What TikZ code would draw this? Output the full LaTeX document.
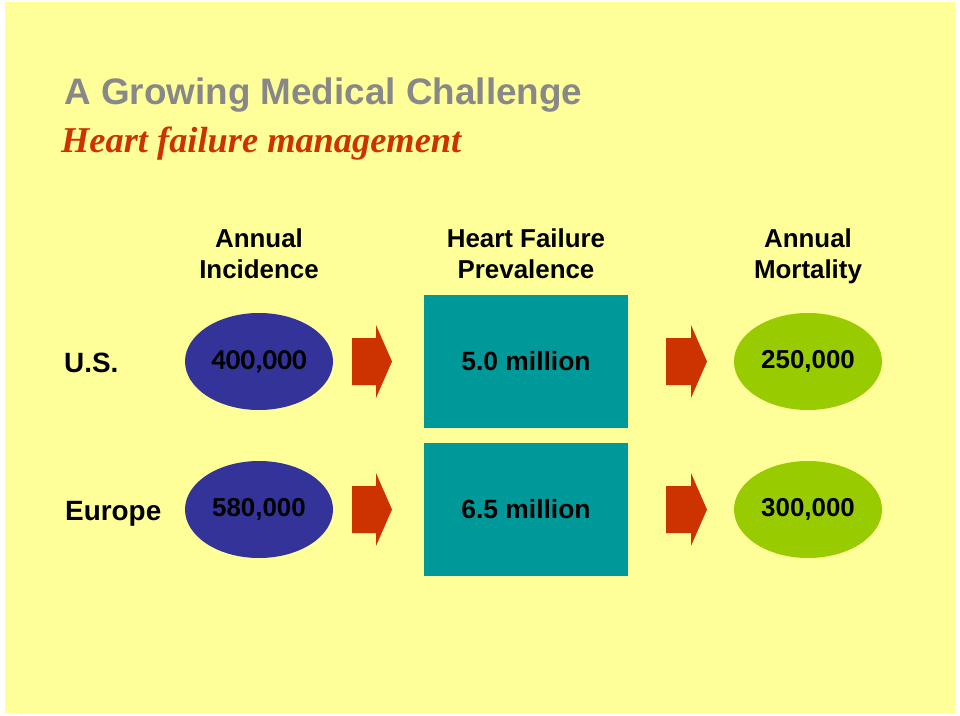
\documentclass[tikz,border=0pt]{standalone}
\usepackage{fontspec}
\setmainfont{Liberation Sans}
\newfontfamily\calibfont{Carlito}
\newfontfamily\timesfont{Liberation Serif}
\usepackage{tikz}
\usetikzlibrary{shapes.geometric,positioning}
\definecolor{slideyellow}{HTML}{FFFF99}
\definecolor{ovalblue}{HTML}{333399}
\definecolor{boxteal}{HTML}{009999}
\definecolor{ovalgreen}{HTML}{99CC00}
\definecolor{arroworange}{HTML}{CC3300}
\definecolor{titlegray}{HTML}{888888}

\begin{document}
\begin{tikzpicture}[%
    x=1bp, y=-1bp,
    node distance=148bp,
    on grid,
    incidence/.style={ellipse, fill=ovalblue, minimum width=148bp, minimum height=97bp,
        inner sep=0pt, font=\bfseries\fontsize{26}{30}\selectfont},
    prevalence/.style={rectangle, fill=boxteal, minimum width=204bp, minimum height=133bp,
        inner sep=0pt, font=\bfseries\fontsize{26.5}{30}\selectfont},
    mortality/.style={ellipse, fill=ovalgreen, minimum width=148bp, minimum height=97bp,
        inner sep=0pt, font=\bfseries\fontsize{26}{30}\selectfont},
    heading/.style={align=center, inner sep=0pt, font=\bfseries\fontsize{26}{31}\selectfont},
    rowlabel/.style={anchor=base west, inner sep=0pt, font=\bfseries\fontsize{28}{32}\selectfont},
    blockarrow/.style={fill=arroworange}
    ]

    \useasboundingbox (0,0) rectangle (960,716);
    \fill[white] (0,0) rectangle (960,716);
    \fill[slideyellow] (5,2) rectangle (955,713);

    \node[anchor=base west, inner sep=0pt, text=titlegray,
        font=\bfseries\fontsize{37}{40}\selectfont] (title) at (64,105) {A Growing Medical Challenge};
    \node[anchor=base west, inner sep=0pt, text=arroworange,
        font=\timesfont\bfseries\itshape\fontsize{36.5}{40}\selectfont] (subtitle) at (61,153) {Heart failure management};

    \node[heading] (inchead) at (259,254) {Annual\\Incidence};
    \node[heading] (prevhead) at (526,254) {Heart Failure\\Prevalence};
    \node[heading] (morthead) at (808,256) {Annual\\Mortality};

    \node[rowlabel] (us) at (64,372) {U.S.};
    \node[rowlabel] (europe) at (65,520) {Europe};

    \node[incidence] (usinc) at (259,361.5) {\calibfont\fontsize{29}{32}\selectfont 400,000};
    \node[prevalence] (usprev) [right=267bp of usinc] {5.0 million};
    \node[mortality] (usmort) [right=282bp of usprev] {250,000};

    \node[incidence] (euinc) [below=of usinc] {580,000};
    \node[prevalence] (euprev) [below=of usprev] {6.5 million};
    \node[mortality] (eumort) [below=of usmort] {300,000};

    \foreach \r in {361.5,509.5}{
        \foreach \a/\b in {352/24,666/25}{
            \fill[blockarrow] (\a,\r-23.5) -- (\a+\b,\r-23.5) -- (\a+\b,\r-36.5) -- (\a+\b+16,\r)
                -- (\a+\b,\r+36.5) -- (\a+\b,\r+23.5) -- (\a,\r+23.5) -- cycle;
        }
    }

\end{tikzpicture}
\end{document}
